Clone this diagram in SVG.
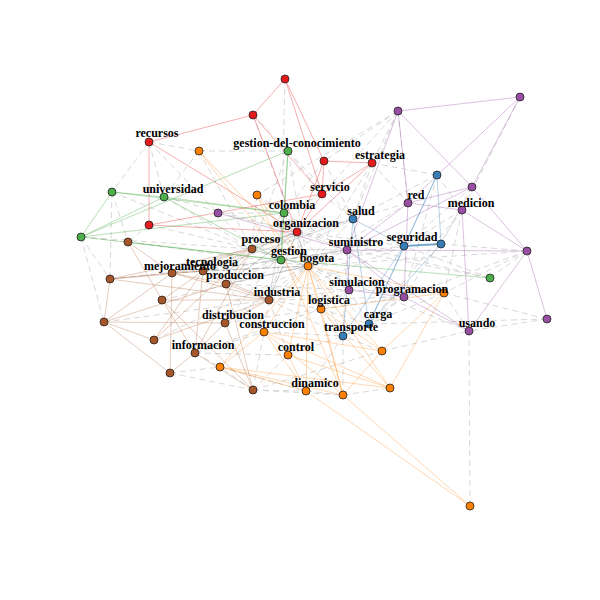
<svg xmlns="http://www.w3.org/2000/svg" width="600" height="600" viewBox="0 0 600 600">
<style>
.d{stroke:#c8c8c8;stroke-width:1;stroke-dasharray:6,4;fill:none;opacity:0.7}
.s{stroke:#999;stroke-width:1;stroke-opacity:0.35;fill:none}
.er{stroke:#E41A1C;stroke-opacity:0.35;stroke-width:1}
.eg{stroke:#4DAF4A;stroke-opacity:0.4;stroke-width:1}
.ep{stroke:#984EA3;stroke-opacity:0.35;stroke-width:1}
.eb{stroke:#377EB8;stroke-opacity:0.35;stroke-width:1}
.eo{stroke:#FF7F00;stroke-opacity:0.3;stroke-width:1}
.en{stroke:#A65628;stroke-opacity:0.3;stroke-width:1}
circle{stroke:#222;stroke-width:0.8}
.R{fill:#E41A1C}.G{fill:#4DAF4A}.P{fill:#984EA3}.B{fill:#377EB8}.O{fill:#FF7F00}.N{fill:#A65628}
text{font-family:"Liberation Serif",serif;font-weight:bold;font-size:12px;fill:#000;text-anchor:middle}
</style>
<rect width="600" height="600" fill="#fff"/>
<g id="connectors">
<!-- grey dashed inter-community edges -->
<path class="d" d="M398,111L324,161 M398,111L372,163 M398,111L353,219 M398,111L257,195 M398,111L322,194 M285,79L281,260 M149,142L199,151 M149,142L112,192 M149,142L164,197 M149,142L218,213 M199,151L164,197 M199,151L288,151 M199,151L252,249 M112,192L110,279 M112,192L128,242 M81,237L104,322 M81,237L110,279 M81,237L128,242 M253,115L288,151 M253,115L308,266 M288,151L322,194 M288,151L308,266 M288,151L252,249 M288,151L353,219 M372,163L437,175 M372,163L408,203 M372,163L353,219 M372,163L308,266 M437,175L462,210 M437,175L353,219 M472,187L404,246 M462,210L404,246 M462,210L404,297 M462,210L444,293 M527,251L441,244 M527,251L308,266 M527,251L490,278 M527,251L404,297 M527,251L444,293 M547,319L469,331 M547,319L444,293 M547,319L369,324 M490,278L404,246 M490,278L347,250 M444,293L469,331 M444,293L369,324 M444,293L349,290 M382,351L469,331 M382,351L343,336 M470,506L469,331 M253,390L288,355 M253,390L306,391 M253,390L220,367 M253,390L343,395 M253,390L264,332 M170,373L220,367 M195,353L220,367 M195,353L264,332 M195,353L288,355 M269,300L308,266 M269,300L321,309 M269,300L264,332 M269,300L297,232 M269,300L281,260 M269,300L343,336 M269,300L349,290 M252,249L308,266 M252,249L297,232 M252,249L281,260 M252,249L284,213 M226,284L308,266 M226,284L281,260 M226,284L297,232 M203,271L308,266 M203,271L281,260 M203,271L297,232 M172,273L308,266 M172,273L281,260 M308,266L297,232 M308,266L284,213 M308,266L353,219 M308,266L347,250 M308,266L349,290 M308,266L404,246 M308,266L404,297 M308,266L343,336 M308,266L369,324 M297,232L284,213 M297,232L347,250 M297,232L353,219 M297,232L349,290 M297,232L404,246 M284,213L347,250 M281,260L347,250 M281,260L404,246 M149,225L128,242 M218,213L284,213 M218,213L297,232 M218,213L252,249 M321,309L343,336 M321,309L369,324 M321,309L349,290 M321,309L404,297 M264,332L343,336 M288,355L343,336 M343,395L343,336 M306,391L343,336 M164,197L252,249 M164,197L297,232 M112,192L252,249 M128,242L308,266 M110,279L281,260 M162,300L308,266 M104,322L269,300 M154,340L308,266 M226,284L353,219 M252,249L353,219 M203,271L347,250 M269,300L404,246 M269,300L404,297 M226,284L349,290 M195,353L321,309 M225,323L308,266 M225,323L297,232 M225,323L321,309 M257,195L297,232 M257,195L284,213 M257,195L252,249 M322,194L284,213 M322,194L353,219 M324,161L284,213 M324,161L353,219 M408,203L353,219 M408,203L308,266 M437,175L404,297 M462,210L369,324 M472,187L441,244 M398,111L408,203 M520,97L462,210 M404,297L369,324 M404,297L343,336 M347,250L343,336 M349,290L369,324 M226,284L264,332 M269,300L288,355 M170,373L253,390 M253,390L382,351 M343,395L390,388 M306,391L343,395 M220,367L306,391 M308,266L469,331 M297,232L490,278 M149,225L252,249 M81,237L252,249"/>
<path class="s" d="M226,284L308,266 M203,271L308,266 M252,249L308,266 M269,300L297,232 M281,260L347,250 M297,232L308,266 M252,249L297,232 M172,273L297,232 M226,284L297,232 M269,300L284,213 M203,271L353,219 M252,249L347,250"/>
<!-- red community -->
<path class="er" d="M285,79L253,115 M285,79L324,161 M285,79L322,194 M253,115L149,142 M253,115L297,232 M149,142L149,225 M149,142L297,232 M149,225L322,194 M149,225L297,232 M324,161L372,163 M324,161L322,194 M324,161L297,232 M372,163L322,194 M372,163L297,232 M322,194L297,232 M253,115L322,194"/>
<!-- green community -->
<path class="eg" d="M288,151L284,213 M288,151L81,237 M288,151L281,260 M81,237L112,192 M81,237L164,197 M81,237L284,213 M81,237L281,260 M112,192L164,197 M112,192L284,213 M164,197L284,213 M164,197L281,260 M284,213L281,260 M281,260L490,278 M128,242L281,260"/>
<!-- purple community -->
<path class="ep" d="M398,111L520,97 M398,111L408,203 M398,111L472,187 M398,111L347,250 M520,97L408,203 M520,97L472,187 M472,187L408,203 M472,187L347,250 M472,187L527,251 M462,210L527,251 M462,210L469,331 M462,210L408,203 M527,251L547,319 M527,251L469,331 M527,251L347,250 M218,213L347,250 M347,250L408,203 M347,250L404,297 M347,250L349,290 M347,250L469,331 M404,297L469,331 M408,203L404,297 M349,290L404,297"/>
<!-- blue community -->
<path class="eb" d="M437,175L404,246 M437,175L441,244 M404,246L441,244 M353,219L404,246 M353,219L343,336 M404,246L369,324 M441,244L369,324 M369,324L343,336 M353,219L369,324 M437,175L369,324 M404,246L343,336"/>
<path d="M404,246L441,244" stroke="#377EB8" stroke-opacity="0.6" stroke-width="2"/>
<!-- orange community -->
<path class="eo" d="M308,266L321,309 M308,266L264,332 M308,266L288,355 M308,266L382,351 M308,266L220,367 M308,266L390,388 M308,266L306,391 M308,266L343,395 M308,266L444,293 M308,266L199,151 M308,266L257,195 M199,151L321,309 M257,195L343,395 M444,293L382,351 M444,293L321,309 M444,293L390,388 M321,309L390,388 M321,309L343,395 M321,309L382,351 M264,332L220,367 M264,332L306,391 M264,332L390,388 M264,332L382,351 M288,355L306,391 M288,355L390,388 M382,351L343,395 M220,367L390,388 M306,391L470,506 M343,395L470,506 M220,367L306,391 M220,367L343,395 M264,332L343,395"/>
<!-- brown community -->
<path class="en" d="M252,249L172,273 M252,249L203,271 M252,249L226,284 M172,273L203,271 M172,273L110,279 M172,273L226,284 M172,273L269,300 M203,271L226,284 M203,271L269,300 M110,279L104,322 M110,279L203,271 M110,279L269,300 M226,284L269,300 M162,300L269,300 M162,300L203,271 M104,322L154,340 M104,322L170,373 M104,322L172,273 M104,322L225,323 M104,322L226,284 M225,323L195,353 M154,340L203,271 M154,340L269,300 M195,353L170,373 M195,353L203,271 M170,373L172,273 M253,390L226,284 M253,390L195,353 M128,242L172,273 M128,242L162,300 M195,353L252,249 M225,323L269,300 M253,390L225,323 M162,300L195,353 M162,300L253,390 M154,340L252,249 M110,279L252,249"/>
</g>
<g id="nodes">
<g id="n-r1"><circle class="R" cx="285" cy="79" r="4"/></g>
<g id="n-r2"><circle class="R" cx="253" cy="115" r="4"/></g>
<g id="n-recursos"><circle class="R" cx="149" cy="142" r="4"/></g>
<g id="n-r4"><circle class="R" cx="324" cy="161" r="4"/></g>
<g id="n-estrategia"><circle class="R" cx="372" cy="163" r="4"/></g>
<g id="n-servicio"><circle class="R" cx="322" cy="194" r="4"/></g>
<g id="n-r7"><circle class="R" cx="149" cy="225" r="4"/></g>
<g id="n-organizacion"><circle class="R" cx="297" cy="232" r="4"/></g>
<g id="n-gestion-del-conocimiento"><circle class="G" cx="288" cy="151" r="4"/></g>
<g id="n-g2"><circle class="G" cx="112" cy="192" r="4"/></g>
<g id="n-universidad"><circle class="G" cx="164" cy="197" r="4"/></g>
<g id="n-colombia"><circle class="G" cx="284" cy="213" r="4"/></g>
<g id="n-g5"><circle class="G" cx="81" cy="237" r="4"/></g>
<g id="n-gestion"><circle class="G" cx="281" cy="260" r="4"/></g>
<g id="n-g7"><circle class="G" cx="490" cy="278" r="4"/></g>
<g id="n-p1"><circle class="P" cx="398" cy="111" r="4"/></g>
<g id="n-p2"><circle class="P" cx="520" cy="97" r="4"/></g>
<g id="n-p3"><circle class="P" cx="472" cy="187" r="4"/></g>
<g id="n-red"><circle class="P" cx="408" cy="203" r="4"/></g>
<g id="n-medicion"><circle class="P" cx="462" cy="210" r="4"/></g>
<g id="n-p6"><circle class="P" cx="218" cy="213" r="4"/></g>
<g id="n-suministro"><circle class="P" cx="347" cy="250" r="4"/></g>
<g id="n-p8"><circle class="P" cx="527" cy="251" r="4"/></g>
<g id="n-simulacion"><circle class="P" cx="349" cy="290" r="4"/></g>
<g id="n-programacion"><circle class="P" cx="404" cy="297" r="4"/></g>
<g id="n-p11"><circle class="P" cx="547" cy="319" r="4"/></g>
<g id="n-usando"><circle class="P" cx="469" cy="331" r="4"/></g>
<g id="n-b1"><circle class="B" cx="437" cy="175" r="4"/></g>
<g id="n-salud"><circle class="B" cx="353" cy="219" r="4"/></g>
<g id="n-seguridad"><circle class="B" cx="404" cy="246" r="4"/></g>
<g id="n-b4"><circle class="B" cx="441" cy="244" r="4"/></g>
<g id="n-carga"><circle class="B" cx="369" cy="324" r="4"/></g>
<g id="n-transporte"><circle class="B" cx="343" cy="336" r="4"/></g>
<g id="n-o1"><circle class="O" cx="199" cy="151" r="4"/></g>
<g id="n-o2"><circle class="O" cx="257" cy="195" r="4"/></g>
<g id="n-bogota"><circle class="O" cx="308" cy="266" r="4"/></g>
<g id="n-o4"><circle class="O" cx="444" cy="293" r="4"/></g>
<g id="n-logistica"><circle class="O" cx="321" cy="309" r="4"/></g>
<g id="n-construccion"><circle class="O" cx="264" cy="332" r="4"/></g>
<g id="n-control"><circle class="O" cx="288" cy="355" r="4"/></g>
<g id="n-o8"><circle class="O" cx="382" cy="351" r="4"/></g>
<g id="n-o9"><circle class="O" cx="220" cy="367" r="4"/></g>
<g id="n-o10"><circle class="O" cx="390" cy="388" r="4"/></g>
<g id="n-dinamico"><circle class="O" cx="306" cy="391" r="4"/></g>
<g id="n-o12"><circle class="O" cx="343" cy="395" r="4"/></g>
<g id="n-o13"><circle class="O" cx="470" cy="506" r="4"/></g>
<g id="n-n1"><circle class="N" cx="128" cy="242" r="4"/></g>
<g id="n-proceso"><circle class="N" cx="252" cy="249" r="4"/></g>
<g id="n-mejoramiento"><circle class="N" cx="172" cy="273" r="4"/></g>
<g id="n-tecnologia"><circle class="N" cx="203" cy="271" r="4"/></g>
<g id="n-n5"><circle class="N" cx="110" cy="279" r="4"/></g>
<g id="n-produccion"><circle class="N" cx="226" cy="284" r="4"/></g>
<g id="n-n7"><circle class="N" cx="162" cy="300" r="4"/></g>
<g id="n-industria"><circle class="N" cx="269" cy="300" r="4"/></g>
<g id="n-n9"><circle class="N" cx="104" cy="322" r="4"/></g>
<g id="n-distribucion"><circle class="N" cx="225" cy="323" r="4"/></g>
<g id="n-n11"><circle class="N" cx="154" cy="340" r="4"/></g>
<g id="n-informacion"><circle class="N" cx="195" cy="353" r="4"/></g>
<g id="n-n13"><circle class="N" cx="170" cy="373" r="4"/></g>
<g id="n-n14"><circle class="N" cx="253" cy="390" r="4"/></g>
</g>
<g id="labels">
<text x="157" y="137">recursos</text>
<text x="297" y="147">gestion-del-conocimiento</text>
<text x="380" y="159">estrategia</text>
<text x="173" y="193">universidad</text>
<text x="330" y="191">servicio</text>
<text x="416" y="199">red</text>
<text x="471" y="207">medicion</text>
<text x="292" y="209">colombia</text>
<text x="361" y="215">salud</text>
<text x="306" y="227">organizacion</text>
<text x="412" y="241">seguridad</text>
<text x="356" y="246">suministro</text>
<text x="261" y="243">proceso</text>
<text x="289" y="255">gestion</text>
<text x="317" y="262">bogota</text>
<text x="212" y="266">tecnologia</text>
<text x="180" y="270">mejoramiento</text>
<text x="235" y="279">produccion</text>
<text x="277" y="296">industria</text>
<text x="357" y="286">simulacion</text>
<text x="412" y="293">programacion</text>
<text x="329" y="304">logistica</text>
<text x="233" y="319">distribucion</text>
<text x="378" y="318">carga</text>
<text x="477" y="327">usando</text>
<text x="272" y="328">construccion</text>
<text x="351" y="331">transporte</text>
<text x="203" y="349">informacion</text>
<text x="296" y="351">control</text>
<text x="315" y="387">dinamico</text>
</g>
</svg>
